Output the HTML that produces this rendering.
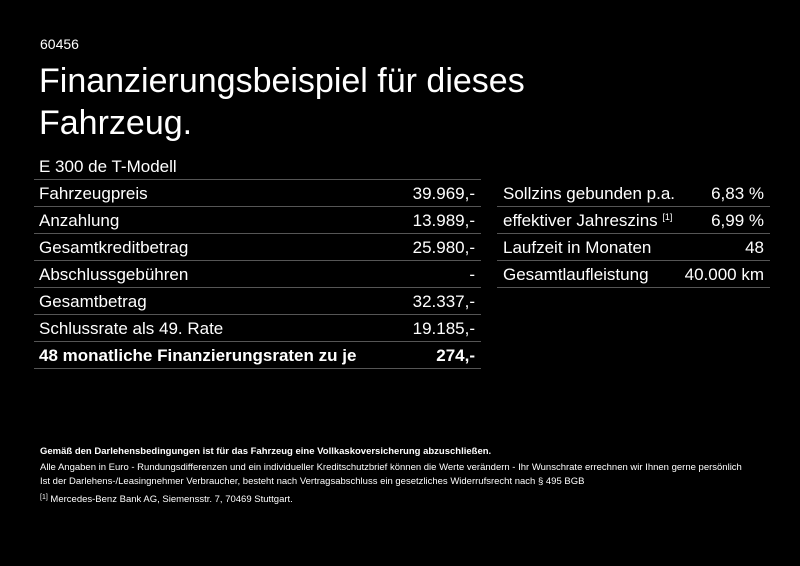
<!DOCTYPE html>
<html><head><meta charset="utf-8"><style>
*{margin:0;padding:0;box-sizing:border-box}
body{width:800px;height:566px;background:#000;color:#fff;font-family:"Liberation Sans",sans-serif;position:relative;overflow:hidden}
.a{position:absolute;white-space:nowrap}
.row{position:absolute;height:27px;border-bottom:1px solid #555;font-size:17px;line-height:27px;white-space:nowrap}
.row span{position:absolute;right:6px;top:0}
.f{position:absolute;left:40px;font-size:9.5px;white-space:nowrap}
</style></head><body>
<div class="a" style="left:40px;top:36px;font-size:14px">60456</div>
<div class="a" style="left:39px;top:60px;font-size:34px;line-height:42px">Finanzierungsbeispiel für dieses<br>Fahrzeug.</div>
<div class="row" style="left:34px;width:447px;top:153px;padding-left:5px">E 300 de T-Modell</div>
<div class="row" style="left:34px;width:447px;top:180px;padding-left:5px">Fahrzeugpreis<span>39.969,-</span></div>
<div class="row" style="left:34px;width:447px;top:207px;padding-left:5px">Anzahlung<span>13.989,-</span></div>
<div class="row" style="left:34px;width:447px;top:234px;padding-left:5px">Gesamtkreditbetrag<span>25.980,-</span></div>
<div class="row" style="left:34px;width:447px;top:261px;padding-left:5px">Abschlussgebühren<span>-</span></div>
<div class="row" style="left:34px;width:447px;top:288px;padding-left:5px">Gesamtbetrag<span>32.337,-</span></div>
<div class="row" style="left:34px;width:447px;top:315px;padding-left:5px">Schlussrate als 49. Rate<span>19.185,-</span></div>
<div class="row" style="left:34px;width:447px;top:342px;padding-left:5px;font-weight:bold">48 monatliche Finanzierungsraten zu je<span>274,-</span></div>
<div class="row" style="left:497px;width:273px;top:180px;padding-left:6px">Sollzins gebunden p.a.<span>6,83 %</span></div>
<div class="row" style="left:497px;width:273px;top:207px;padding-left:6px">effektiver Jahreszins <i style="font-style:normal;font-size:9px;position:relative;top:-6px">[1]</i><span>6,99 %</span></div>
<div class="row" style="left:497px;width:273px;top:234px;padding-left:6px">Laufzeit in Monaten<span>48</span></div>
<div class="row" style="left:497px;width:273px;top:261px;padding-left:6px">Gesamtlaufleistung<span>40.000 km</span></div>
<div class="f" style="top:446px;font-weight:bold">Gemäß den Darlehensbedingungen ist für das Fahrzeug eine Vollkaskoversicherung abzuschließen.</div>
<div class="f" style="top:462px">Alle Angaben in Euro - Rundungsdifferenzen und ein individueller Kreditschutzbrief können die Werte verändern - Ihr Wunschrate errechnen wir Ihnen gerne persönlich</div>
<div class="f" style="top:476px">Ist der Darlehens-/Leasingnehmer Verbraucher, besteht nach Vertragsabschluss ein gesetzliches Widerrufsrecht nach § 495 BGB</div>
<div class="f" style="top:494px"><span style="font-size:7px;position:relative;top:-3px">[1]</span> Mercedes-Benz Bank AG, Siemensstr. 7, 70469 Stuttgart.</div>
</body></html>
